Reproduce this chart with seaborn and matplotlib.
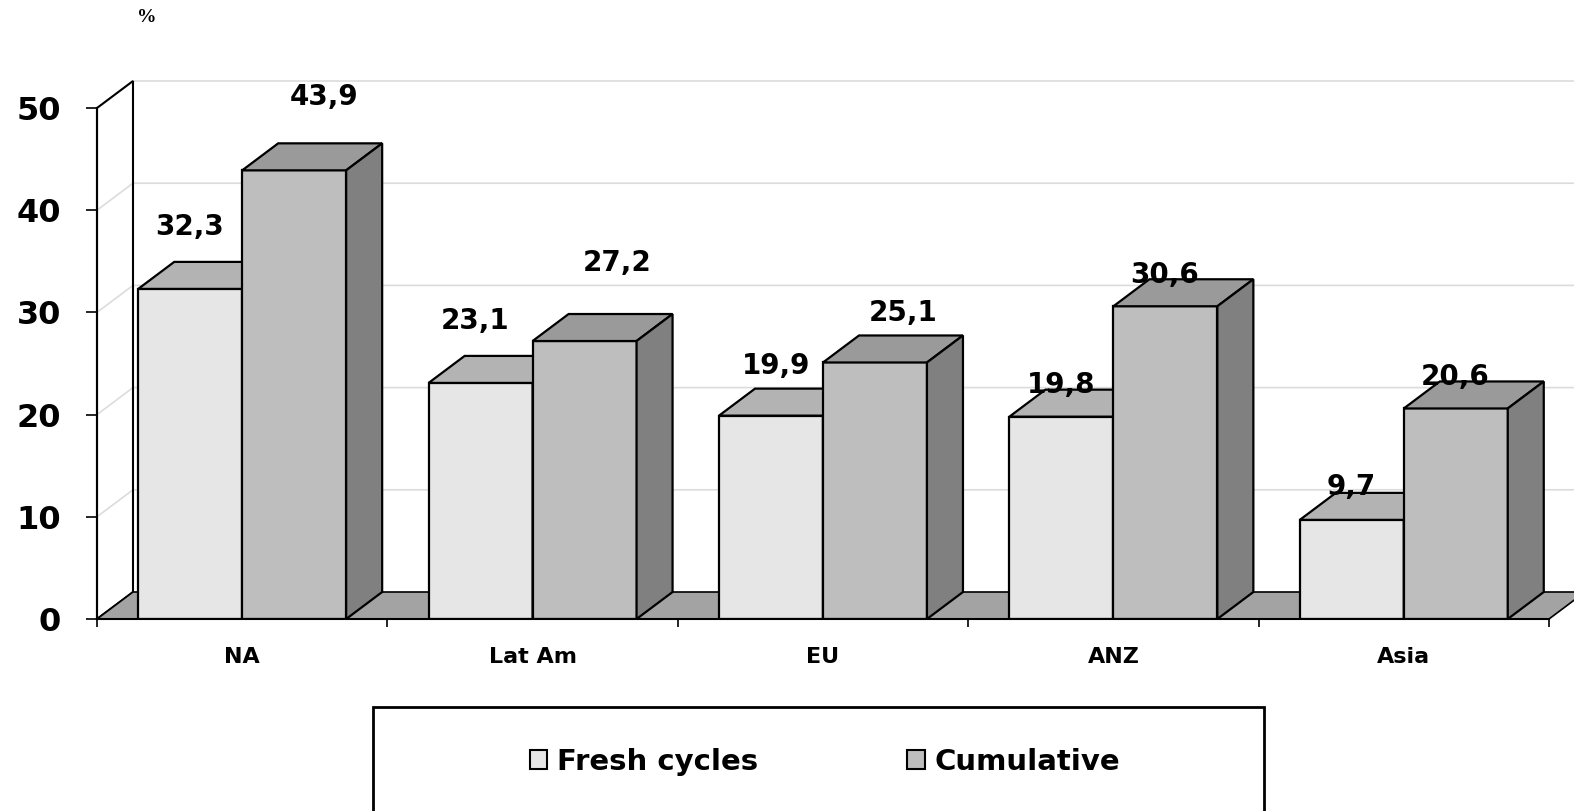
import numpy as np
import pandas as pd
import matplotlib
matplotlib.use("Agg")
import matplotlib.pyplot as plt
import seaborn as sns
from matplotlib.patches import Polygon, Rectangle, Patch

# chart data
regions = ["NA", "Lat Am", "EU", "ANZ", "Asia"]
series = ["Fresh cycles", "Cumulative"]
fresh = [32.3, 23.1, 19.9, 19.8, 9.7]
cumulative = [43.9, 27.2, 25.1, 30.6, 20.6]
y_ticks = [0, 10, 20, 30, 40, 50]

# label nudges (pixels), same order as the bars
label_shift = [
    [(-1, 62), (-6, 62), (5, 50), (0, 32), (-1, 33)],
    [(30, 73), (33, 78), (28, 49), (-1, 31), (-1, 31)],
]

# colours: front, top, side
front_col = ["#e6e6e6", "#bebebe"]
top_col = ["#b3b3b3", "#9a9a9a"]
side_col = ["#999999", "#808080"]
floor_col = "#a3a3a3"

sns.set_style("white")
plt.rcParams["font.family"] = ["DejaVu Sans"]
plt.rcParams["font.weight"] = "bold"
plt.rcParams["text.color"] = "black"
plt.rcParams["xtick.color"] = "black"
plt.rcParams["ytick.color"] = "black"
plt.rcParams["xtick.labelcolor"] = "black"
plt.rcParams["ytick.labelcolor"] = "black"

df = pd.DataFrame({
    "region": regions * 2,
    "series": [series[0]] * len(regions) + [series[1]] * len(regions),
    "value": fresh + cumulative,
})

W, H = 1574, 811
fig = plt.figure(figsize=(W / 100, H / 100), dpi=100)
ax = fig.add_axes([97 / W, 192 / H, 1452 / W, 511 / H])

sns.barplot(data=df, x="region", y="value", hue="series", order=regions,
            hue_order=series, palette=front_col, saturation=1, width=0.716,
            gap=0, edgecolor="black", linewidth=1.6, legend=False, ax=ax)
ax.set_xlim(-0.5, len(regions) - 0.5)
ax.set_ylim(0, 50)

# fake 3d depth
dx = 36 / 290.4
dy = 27 / (511 / 50)
x0, x1 = -0.5, len(regions) - 0.5

# side wall (face, then gridlines, then outline on top)
wall = [(x0, 0), (x0, 50), (x0 + dx, 50 + dy), (x0 + dx, dy)]
ax.add_patch(Polygon(wall, closed=True, facecolor="white", edgecolor="none",
                     zorder=0.5, clip_on=False))
for v in y_ticks[1:]:
    ax.plot([x0, x0 + dx, x1 + dx], [v, v + dy, v + dy], color="#dcdcdc",
            linewidth=1.2, zorder=0.6, clip_on=False)
ax.add_patch(Polygon(wall, closed=True, fill=False, edgecolor="black",
                     linewidth=1.5, zorder=0.9, clip_on=False))
# floor
ax.add_patch(Polygon([(x0, 0), (x1, 0), (x1 + dx, dy), (x0 + dx, dy)],
                     closed=True, facecolor=floor_col, edgecolor="black",
                     linewidth=1.2, zorder=1, clip_on=False))

for k, cont in enumerate(ax.containers):
    for j, bar in enumerate(cont):
        bar.set_zorder(3 + k)
        bx, bw, bh = bar.get_x(), bar.get_width(), bar.get_height()
        top = [(bx, bh), (bx + bw, bh), (bx + bw + dx, bh + dy), (bx + dx, bh + dy)]
        side = [(bx + bw, 0), (bx + bw + dx, dy), (bx + bw + dx, bh + dy), (bx + bw, bh)]
        ax.add_patch(Polygon(top, closed=True, facecolor=top_col[k], edgecolor="black",
                             linewidth=1.6, zorder=3 + k, clip_on=False))
        ax.add_patch(Polygon(side, closed=True, facecolor=side_col[k], edgecolor="black",
                             linewidth=1.6, zorder=3 + k, clip_on=False))
        txt = f"{bh:.1f}".replace(".", ",")
        ax.annotate(txt, xy=(bx + bw / 2, bh), xytext=label_shift[k][j],
                    textcoords="offset pixels", ha="center", va="center",
                    fontsize=20, fontweight="bold", color="black", zorder=10)

# axes look
for s in ["top", "right"]:
    ax.spines[s].set_visible(False)
for s in ["left", "bottom"]:
    ax.spines[s].set_color("black")
    ax.spines[s].set_linewidth(1.5)
    ax.spines[s].set_zorder(5)

ax.set_yticks(y_ticks)
ax.tick_params(axis="y", left=True, length=8, width=1.2, color="black",
               pad=18, labelsize=23, labelcolor="black")
ax.set_xticks(range(len(regions)))
ax.set_xticks(np.arange(-0.5, len(regions), 1), minor=True)
ax.tick_params(axis="x", which="major", bottom=True, length=0, pad=20,
               labelsize=16, labelcolor="black")
ax.tick_params(axis="x", which="minor", bottom=True, length=6, width=1.2,
               color="black")
ax.set_xlabel("")
ax.set_ylabel("")

fig.text(147 / W, 1 - 18 / H, "%", family="Liberation Serif", fontsize=14,
         fontweight="bold", ha="center", va="center", color="black")

# legend
handles = [Patch(facecolor=c, edgecolor="black", linewidth=1.5) for c in front_col]
fig.legend(handles, series, loc="center", bbox_to_anchor=(825 / W, 49 / H),
           ncol=2, frameon=False, prop=dict(weight="bold", size=21),
           labelcolor="black", handlelength=0.6, handleheight=0.6,
           handletextpad=0.35, columnspacing=5.1)
fig.add_artist(Rectangle((373 / W, -0.05), 891 / W, 0.05 + 104 / H,
                         transform=fig.transFigure, fill=False,
                         edgecolor="black", linewidth=2))

fig.savefig("out.png", dpi=100)
